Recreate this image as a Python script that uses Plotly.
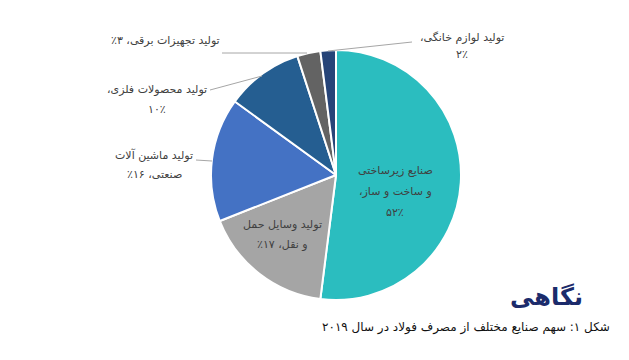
import plotly.graph_objects as go

# ---- data ----
categories = [
    "صنایع زیرساختی و ساخت و ساز",
    "تولید وسایل حمل و نقل",
    "تولید ماشین آلات صنعتی",
    "تولید محصولات فلزی",
    "تولید تجهیزات برقی",
    "تولید لوازم خانگی",
]
values = [52, 17, 16, 10, 3, 2]
colors = ["#2BBDBF", "#A5A5A5", "#4472C4", "#255E91", "#636363", "#264478"]

title_text = "نگاهی"
caption_text = "شکل ۱: سهم صنایع مختلف از مصرف فولاد در سال ۲۰۱۹"

W, H = 629, 360
FA = str.maketrans("0123456789", "۰۱۲۳۴۵۶۷۸۹")
RLE, PDF = "\u202B", "\u202C"


def fa(n):
    return str(n).translate(FA)


def rtl(s):
    return RLE + s + PDF


def px(x):
    return x / W


def py(y):
    return 1 - y / H


fig = go.Figure(go.Pie(
    labels=categories,
    values=values,
    sort=False,
    direction="clockwise",
    rotation=0,
    marker=dict(colors=colors, line=dict(color="white", width=2)),
    textinfo="none",
    hoverinfo="label+percent",
    domain=dict(x=[px(211), px(461)], y=[py(300), py(50)]),
    showlegend=False,
))

label_lines = [
    ["صنایع زیرساختی", "و ساخت و ساز،", fa(values[0]) + "٪"],
    ["تولید وسایل حمل", "و نقل، " + fa(values[1]) + "٪"],
    ["تولید ماشین آلات", "صنعتی، " + fa(values[2]) + "٪"],
    ["تولید محصولات فلزی،", fa(values[3]) + "٪"],
    ["تولید تجهیزات برقی، " + fa(values[4]) + "٪"],
    ["تولید لوازم خانگی،", fa(values[5]) + "٪"],
]
# (center x, first-line center y, line step) of each label block, in pixels
label_pos = [(395, 170, 21), (282, 224, 20), (154, 155, 19),
             (157, 89, 20), (165, 40, 20), (462, 38, 16)]

annotations = []
for lines, (cx, cy, step) in zip(label_lines, label_pos):
    for i, line in enumerate(lines):
        annotations.append(dict(
            x=px(cx), y=py(cy + i * step), xref="paper", yref="paper",
            xanchor="center", yanchor="middle", showarrow=False,
            text=rtl(line),
            font=dict(family="DejaVu Sans", size=11, color="#404040"),
        ))

annotations.append(dict(
    x=px(585), y=py(297), xref="paper", yref="paper", xanchor="right", yanchor="middle",
    showarrow=False, text="<b>" + rtl(title_text) + "</b>",
    font=dict(family="DejaVu Sans", size=24, color="#1B2B6B"),
))
annotations.append(dict(
    x=px(612), y=py(327), xref="paper", yref="paper", xanchor="right", yanchor="middle",
    showarrow=False, text=rtl(caption_text),
    font=dict(family="DejaVu Sans", size=12, color="#111111"),
))

leaders = [
    [(412, 42), (328, 51)],
    [(222, 53), (307, 53)],
    [(210, 90), (262, 76)],
    [(196, 160), (212, 161)],
]
shapes = []
for (x0, y0), (x1, y1) in leaders:
    shapes.append(dict(type="line", xref="paper", yref="paper",
                       x0=px(x0), y0=py(y0), x1=px(x1), y1=py(y1),
                       line=dict(color="#A6A6A6", width=1)))

fig.update_layout(
    width=W, height=H,
    margin=dict(l=0, r=0, t=0, b=0),
    paper_bgcolor="white",
    plot_bgcolor="white",
    annotations=annotations,
    shapes=shapes,
)

fig.write_html("out.html", config={"displayModeBar": False},
               post_script="document.body.style.margin='0';")
